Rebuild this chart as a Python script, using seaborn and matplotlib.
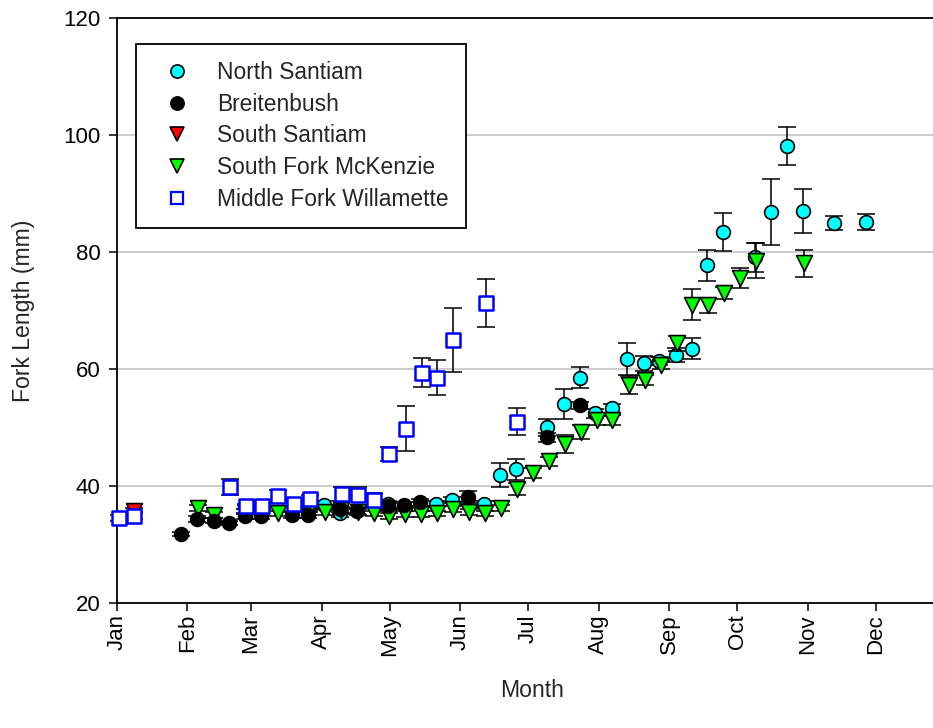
import numpy as np
import pandas as pd
import matplotlib
matplotlib.use("Agg")
import matplotlib.pyplot as plt
from matplotlib.lines import Line2D
import seaborn as sns

# ---- data: day of year (0 = Jan 1), mean fork length (mm), standard error ----
ns_day = [84.5, 91.2, 98.2, 119.4, 140.4, 147.4, 161.5, 168.5, 175.5, 189.4,
          196.6, 203.6, 210.2, 217.6, 224.6, 231.7, 238.6, 245.8, 252.9, 259.8,
          266.7, 280.8, 287.7, 294.8, 301.7, 315.6, 329.6]
ns_len = [36.5, 36.8, 35.3, 36.9, 37.0, 37.6, 36.9, 41.9, 42.9, 50.0,
          54.0, 58.5, 52.4, 53.3, 61.7, 61.0, 61.4, 62.4, 63.5, 77.7,
          83.4, 79.1, 86.8, 98.1, 87.0, 85.0, 85.1]
ns_se = [0.6, 0.6, 0.6, 0.6, 0.5, 0.5, 0.5, 2.1, 1.8, 1.4,
         2.5, 1.8, 0.8, 0.8, 2.7, 1.3, 0.7, 1.2, 1.8, 2.6,
         3.3, 2.5, 5.6, 3.2, 3.7, 1.2, 1.4]

br_day = [28.3, 35.4, 42.6, 49.3, 56.4, 63.4, 77.2, 84.2, 98.3, 105.6,
          119.4, 126.5, 133.4, 154.6, 189.4, 203.6]
br_len = [31.8, 34.4, 34.1, 33.7, 34.9, 34.9, 35.1, 35.0, 36.0, 35.7,
          36.5, 36.7, 37.2, 38.1, 48.3, 53.8]
br_se = [0.4, 0.5, 0.5, 0.4, 0.5, 0.5, 0.5, 0.5, 0.5, 0.5,
         0.6, 0.6, 0.6, 1.0, 0.7, 0.6]

ss_day = [7.5]
ss_len = [35.8]
ss_se = [0.4]

sfm_day = [35.5, 42.7, 56.4, 63.4, 70.9, 84.5, 91.7, 98.5, 105.9, 113.0,
           119.8, 126.9, 133.8, 140.8, 148.0, 155.1, 162.0, 169.1, 176.1, 183.1,
           189.9, 197.0, 204.0, 211.0, 218.0, 225.2, 232.3, 239.2, 246.3, 253.2,
           260.2, 267.3, 274.2, 281.1, 302.4]
sfm_len = [36.2, 35.0, 35.6, 35.6, 35.3, 36.0, 35.6, 35.9, 35.5, 35.3,
           34.9, 35.2, 35.2, 35.3, 36.0, 35.5, 35.3, 36.2, 39.5, 42.2,
           44.2, 47.2, 49.3, 51.2, 51.3, 57.3, 58.1, 60.7, 64.4, 71.0,
           70.9, 73.0, 75.5, 78.5, 78.1]
sfm_se = [0.5, 0.5, 0.4, 0.4, 0.5, 0.5, 0.5, 0.5, 0.5, 0.5,
          0.5, 0.5, 0.5, 0.5, 0.5, 0.5, 0.5, 0.5, 1.0, 0.9,
          0.8, 1.5, 1.2, 0.8, 0.8, 1.5, 0.9, 0.7, 1.3, 2.6,
          1.3, 1.1, 1.7, 3.0, 2.3]

mfw_day = [0.7, 7.7, 49.7, 56.8, 64.0, 70.8, 78.0, 84.9, 98.8, 105.9,
           113.0, 119.9, 127.0, 134.0, 141.0, 148.0, 162.2, 176.0]
mfw_len = [34.5, 34.9, 39.8, 36.5, 36.5, 38.3, 36.9, 37.8, 38.6, 38.5,
           37.6, 45.4, 49.8, 59.4, 58.5, 65.0, 71.2, 51.0]
mfw_se = [0.5, 0.6, 1.4, 0.5, 0.5, 1.0, 0.5, 0.6, 1.2, 1.3,
          1.2, 1.2, 3.9, 2.5, 3.0, 5.5, 4.1, 2.3]

month_start = [0, 31, 59, 90, 120, 151, 181, 212, 243, 273, 304, 334]
month_names = ["Jan", "Feb", "Mar", "Apr", "May", "Jun",
               "Jul", "Aug", "Sep", "Oct", "Nov", "Dec"]

# ---- styling ----
sns.set_style("ticks")
plt.rcParams["font.family"] = ["Liberation Sans", "DejaVu Sans"]

fig = plt.figure(figsize=(9.33, 7.28), dpi=100)
ax = fig.add_axes([117 / 933, 125 / 728, 829.5 / 933, 585 / 728])

# series: name, data, marker, face, edge, edge width, size, zorder
series = [
    ("North Santiam", ns_day, ns_len, ns_se, "o", "#00FFFF", "black", 1.2, 98, 3),
    ("South Fork McKenzie", sfm_day, sfm_len, sfm_se, "v", "#00FF00", "black", 1.2, 130, 4),
    ("Breitenbush", br_day, br_len, br_se, "o", "black", "black", 1.2, 98, 5),
    ("South Santiam", ss_day, ss_len, ss_se, "v", "#FF0000", "black", 1.2, 130, 5),
    ("Middle Fork Willamette", mfw_day, mfw_len, mfw_se, "s", "white", "#0000FF", 1.8, 95, 6),
]

for name, d, m, e, mk, fc, ec, lw, s, z in series:
    df = pd.DataFrame({"day": d, "length": m, "se": e})
    ax.errorbar(df["day"], df["length"], yerr=df["se"], fmt="none",
                ecolor="black", elinewidth=1.1, capsize=6.5, capthick=1.1,
                zorder=z - 0.5, clip_on=False)
    sns.scatterplot(data=df, x="day", y="length", ax=ax, marker=mk, s=s,
                    color=fc, edgecolor=ec, linewidth=lw, zorder=z,
                    legend=False, clip_on=False)

# ---- axes ----
ax.set_xlim(0, 365)
ax.set_ylim(20, 120)
ax.set_yticks(np.arange(20, 121, 20))
ax.set_xticks(month_start)
ax.set_xticklabels(month_names, rotation=90)
ax.tick_params(axis="both", direction="out", length=6, width=1.1,
               labelsize=16, color="black", labelcolor="black")
ax.tick_params(axis="x", pad=2)
ax.tick_params(axis="y", pad=6)
ax.yaxis.grid(True, color="#c8c8c8", linewidth=1.3)
ax.xaxis.grid(False)
ax.set_axisbelow(True)
for side in ["left", "bottom", "top"]:
    ax.spines[side].set_visible(True)
    ax.spines[side].set_color("black")
    ax.spines[side].set_linewidth(1.3)
ax.spines["right"].set_visible(False)

ax.set_xlabel("Month", fontsize=16.6, labelpad=16)
ax.set_ylabel("Fork Length (mm)", fontsize=16.6, labelpad=20)

# ---- legend ----
legend_order = [
    ("North Santiam", "o", "#00FFFF", "black", 1.2, 9.5),
    ("Breitenbush", "o", "black", "black", 1.2, 9.5),
    ("South Santiam", "v", "#FF0000", "black", 1.2, 10.5),
    ("South Fork McKenzie", "v", "#00FF00", "black", 1.2, 10.5),
    ("Middle Fork Willamette", "s", "white", "#0000FF", 1.6, 9),
]
handles = [Line2D([], [], linestyle="none", marker=mk, markersize=ms,
                  markerfacecolor=fc, markeredgecolor=ec, markeredgewidth=lw,
                  label=name)
           for name, mk, fc, ec, lw, ms in legend_order]
leg = ax.legend(handles=handles, loc="upper left",
                bbox_to_anchor=(0.0229, 0.9556), fontsize=16.4,
                frameon=True, fancybox=False, edgecolor="black",
                framealpha=1, borderpad=0.75, labelspacing=0.38,
                handlelength=2.1, handletextpad=0.7, borderaxespad=0)
leg.get_frame().set_linewidth(1.3)

fig.savefig("out.png", dpi=100)
